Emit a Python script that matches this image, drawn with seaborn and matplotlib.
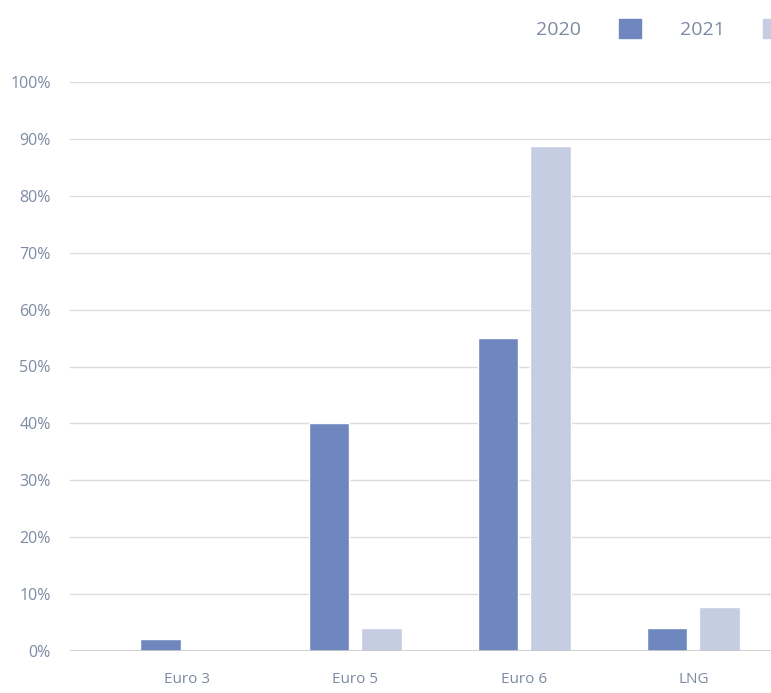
import numpy as np
import pandas as pd
import matplotlib
matplotlib.use('Agg')
import matplotlib.pyplot as plt
import seaborn as sns
from matplotlib.patches import Patch

categories = ['Euro 3', 'Euro 5', 'Euro 6', 'LNG']
years = ['2020', '2021']
share_2020 = [2.1, 40.0, 55.0, 4.0]
share_2021 = [0.0, 4.0, 88.7, 7.7]
yticks = [0, 10, 20, 30, 40, 50, 60, 70, 80, 90, 100]

df = pd.DataFrame({
    'cat': categories * 2,
    'year': [years[0]] * 4 + [years[1]] * 4,
    'share': share_2020 + share_2021,
})

sns.set_style('white')
plt.rcParams['font.family'] = ['Open Sans', 'DejaVu Sans']

colors = {'2020': '#6f87bf', '2021': '#c5cde2'}
text_color = '#7d8aa3'

fig = plt.figure(figsize=(7.71, 6.93), dpi=100)
ax = fig.add_axes([70 / 771, 42 / 693, 1 - 70 / 771, 569 / 693])

sns.barplot(data=df, x='cat', y='share', hue='year', palette=colors,
            width=0.62, gap=0.23, ax=ax, legend=False, saturation=1)

ax.set_ylim(0, 100)
ax.set_xlim(-0.69, 3.46)
ax.set_yticks(yticks)
ax.set_yticklabels(['%d%%' % v for v in yticks])
ax.yaxis.grid(True, color='#dcdcdc', linewidth=1)
ax.axhline(0, color='#c8c8c8', linewidth=1.2, zorder=3)
ax.set_axisbelow(True)
for s in ax.spines.values():
    s.set_visible(False)
ax.set_xlabel('')
ax.set_ylabel('')
ax.tick_params(axis='y', length=0, pad=14, labelsize=11.5, labelcolor=text_color)
ax.tick_params(axis='x', length=0, pad=15, labelsize=11, labelcolor=text_color)

handles = [Patch(color=colors[y]) for y in years]
fig.legend(handles, years, loc='upper left', bbox_to_anchor=(520 / 771, 0.995),
           ncol=2, frameon=False, markerfirst=False, fontsize=14,
           labelcolor=text_color, handlelength=1.1, handleheight=1.1,
           columnspacing=2.0, handletextpad=2.0, borderaxespad=0.4)

fig.savefig('out.png', dpi=100)
